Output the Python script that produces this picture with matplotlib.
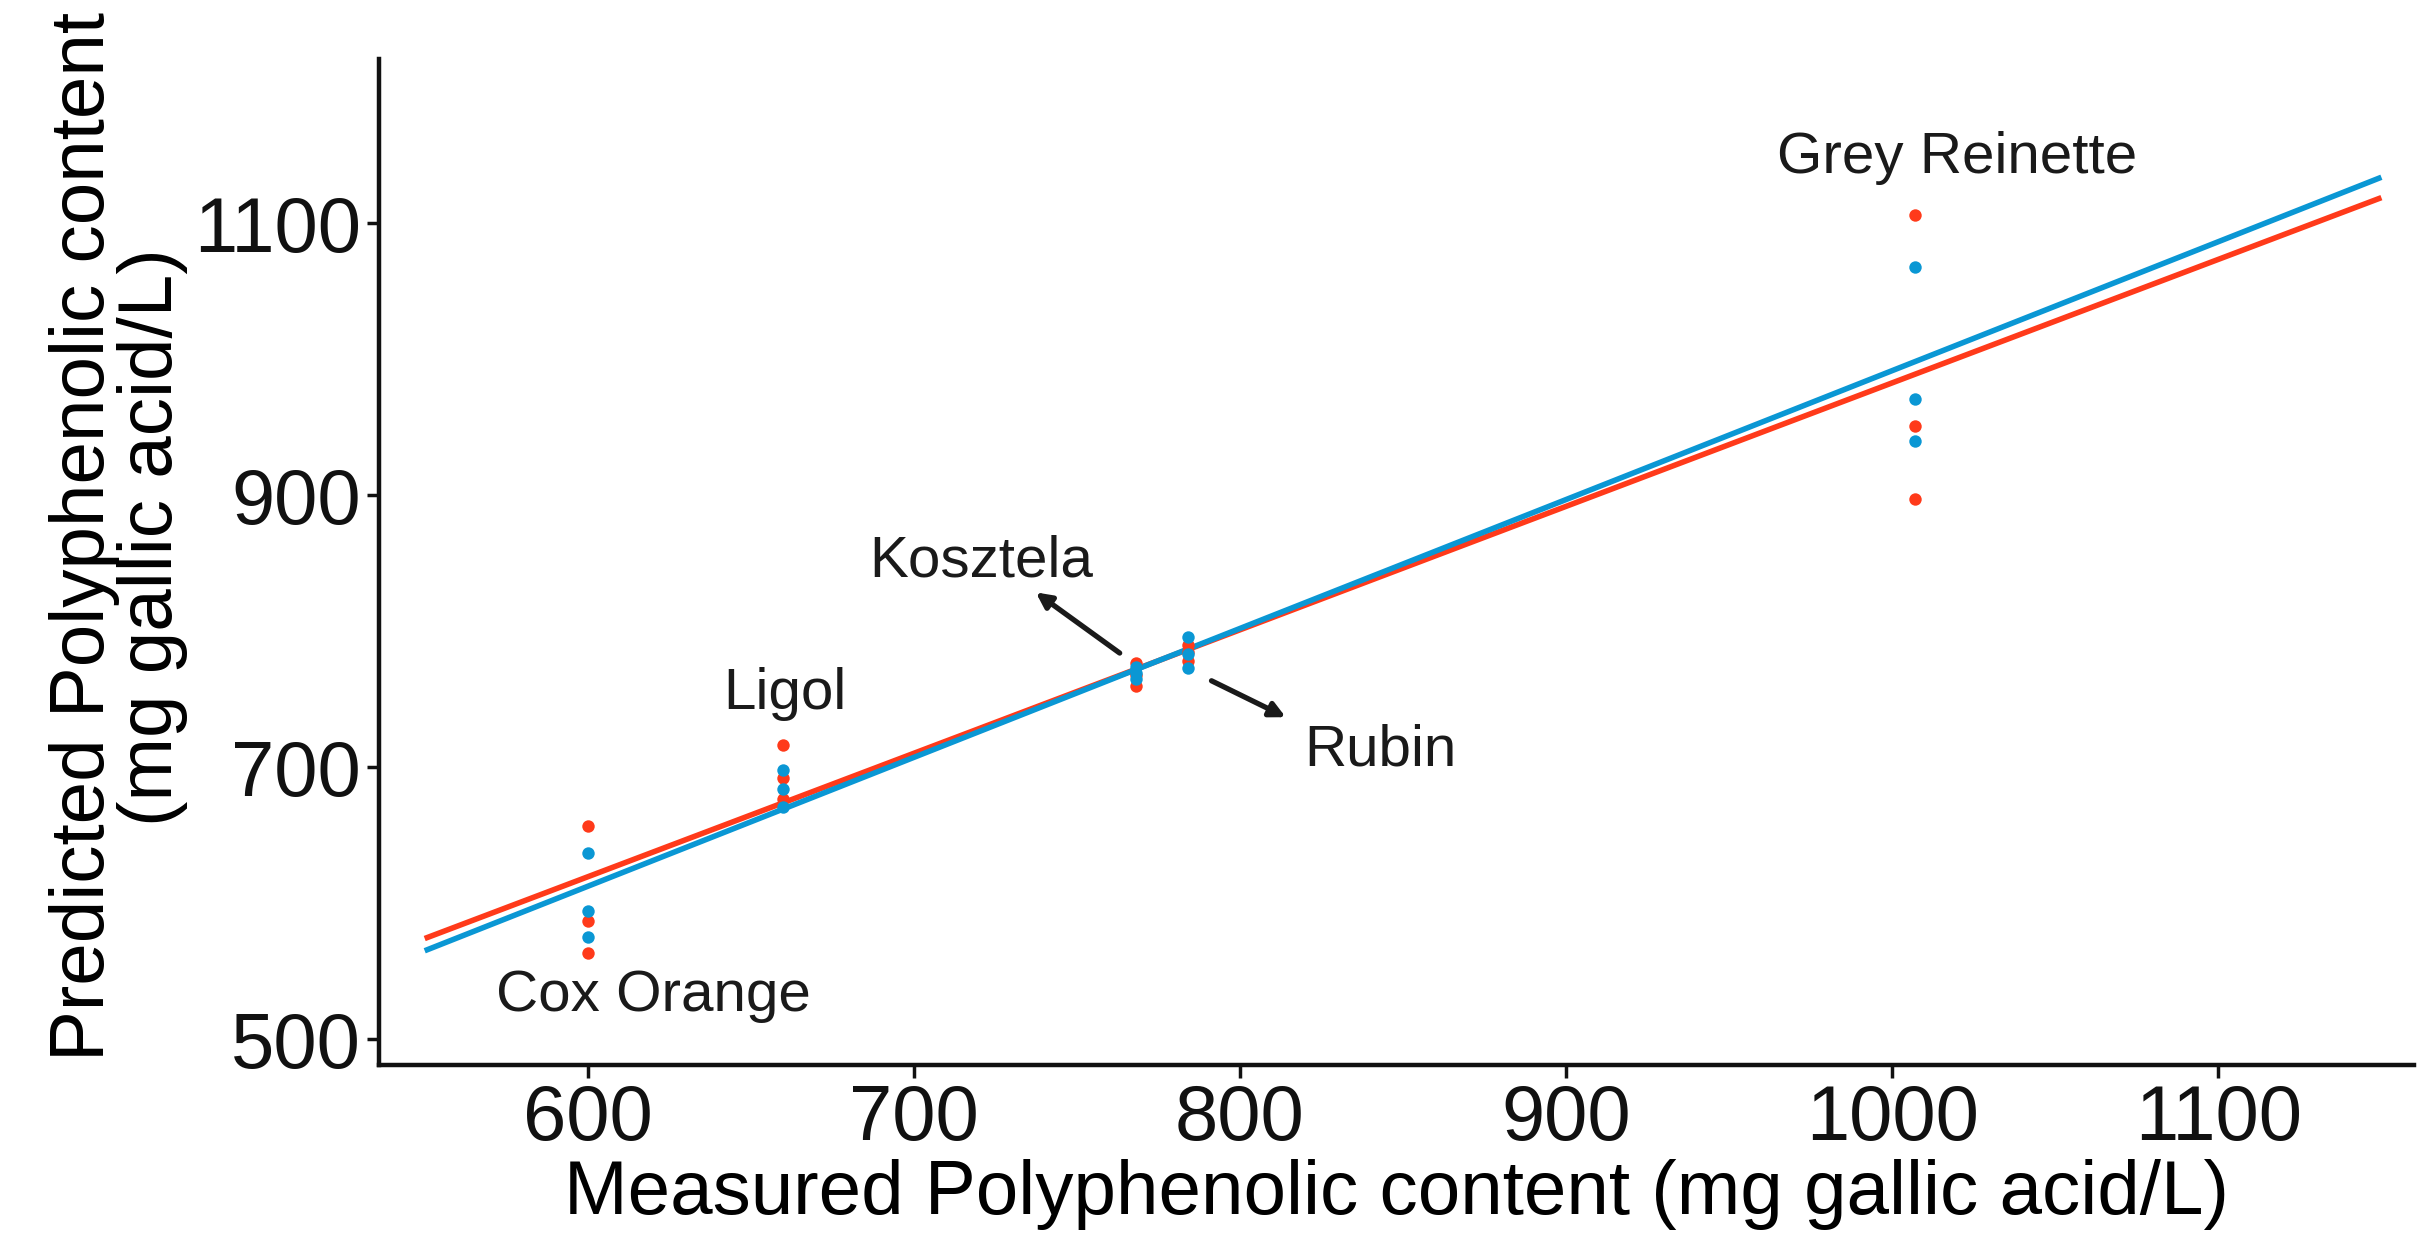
import matplotlib
matplotlib.use('Agg')
import matplotlib.pyplot as plt

# Data
CULTIVAR_X = {'Cox Orange': 600, 'Ligol': 660, 'Kosztela': 768, 'Rubin': 784, 'Grey Reinette': 1007}
RED_Y = {
    'Cox Orange': [657, 587, 563],
    'Ligol': [716, 692, 677],
    'Kosztela': [777, 768, 760],
    'Rubin': [790, 785, 778],
    'Grey Reinette': [1106, 951, 897],
}
BLUE_Y = {
    'Cox Orange': [637, 594, 575],
    'Ligol': [698, 684, 671],
    'Kosztela': [774, 769, 765],
    'Rubin': [796, 783, 773],
    'Grey Reinette': [1068, 971, 940],
}
FIT_X = [550, 1150]
RED_FIT_Y = [574, 1119]
BLUE_FIT_Y = [565, 1134]

X_TICKS = [600, 700, 800, 900, 1000, 1100]
Y_TICKS = [500, 700, 900, 1100]

RED = '#FF3A1A'
BLUE = '#0A97D4'

plt.rcParams['font.family'] = ['Liberation Sans', 'DejaVu Sans']

fig = plt.figure(figsize=(24.22, 12.52), dpi=100)
ax = fig.add_axes([0.1565, 0.1494, 0.8402, 0.8035])

# Fit lines
ax.plot(FIT_X, RED_FIT_Y, color=RED, lw=4.0, solid_capstyle='butt', zorder=2)
ax.plot(FIT_X, BLUE_FIT_Y, color=BLUE, lw=4.0, solid_capstyle='butt', zorder=2)

# Points
for name, x in CULTIVAR_X.items():
    ax.scatter([x] * len(RED_Y[name]), RED_Y[name], s=80, color=RED, linewidths=0, zorder=3)
    ax.scatter([x] * len(BLUE_Y[name]), BLUE_Y[name], s=80, color=BLUE, linewidths=0, zorder=3)

# Labels
lab_kw = dict(fontsize=42, color='#1a1a1a', ha='center', va='center')
ax.text(1020, 1148, 'Grey Reinette', **lab_kw)
ax.text(620, 532, 'Cox Orange', **lab_kw)
ax.text(660.5, 754, 'Ligol', **lab_kw)
ax.text(720.5, 851.5, 'Kosztela', **lab_kw)
ax.text(843, 712, 'Rubin', **lab_kw)

arrow_kw = dict(arrowstyle='-|>,head_length=0.9,head_width=0.45', color='#1a1a1a', lw=3.8)
ax.annotate('', xy=(736.7, 829.8), xytext=(763.8, 782.8), arrowprops=arrow_kw)
ax.annotate('', xy=(814.8, 735.9), xytext=(790.5, 764.5), arrowprops=arrow_kw)

ax.set_xlim(536, 1160)
ax.set_ylim(481, 1221)
ax.set_xticks(X_TICKS)
ax.set_yticks(Y_TICKS)

for side in ['top', 'right']:
    ax.spines[side].set_visible(False)
for side in ['left', 'bottom']:
    ax.spines[side].set_linewidth(3.2)
    ax.spines[side].set_color('#111111')

ax.tick_params(axis='both', length=9, width=2.5, colors='#111111', labelsize=56, pad=4)

ax.set_xlabel('Measured Polyphenolic content (mg gallic acid/L)', fontsize=55, labelpad=2)
ax.set_ylabel('Predicted Polyphenolic content\n(mg gallic acid/L)', fontsize=55,
              linespacing=0.95)
ax.yaxis.set_label_coords(-0.094, 0.525)

fig.savefig('out.png', dpi=100, facecolor='white')
